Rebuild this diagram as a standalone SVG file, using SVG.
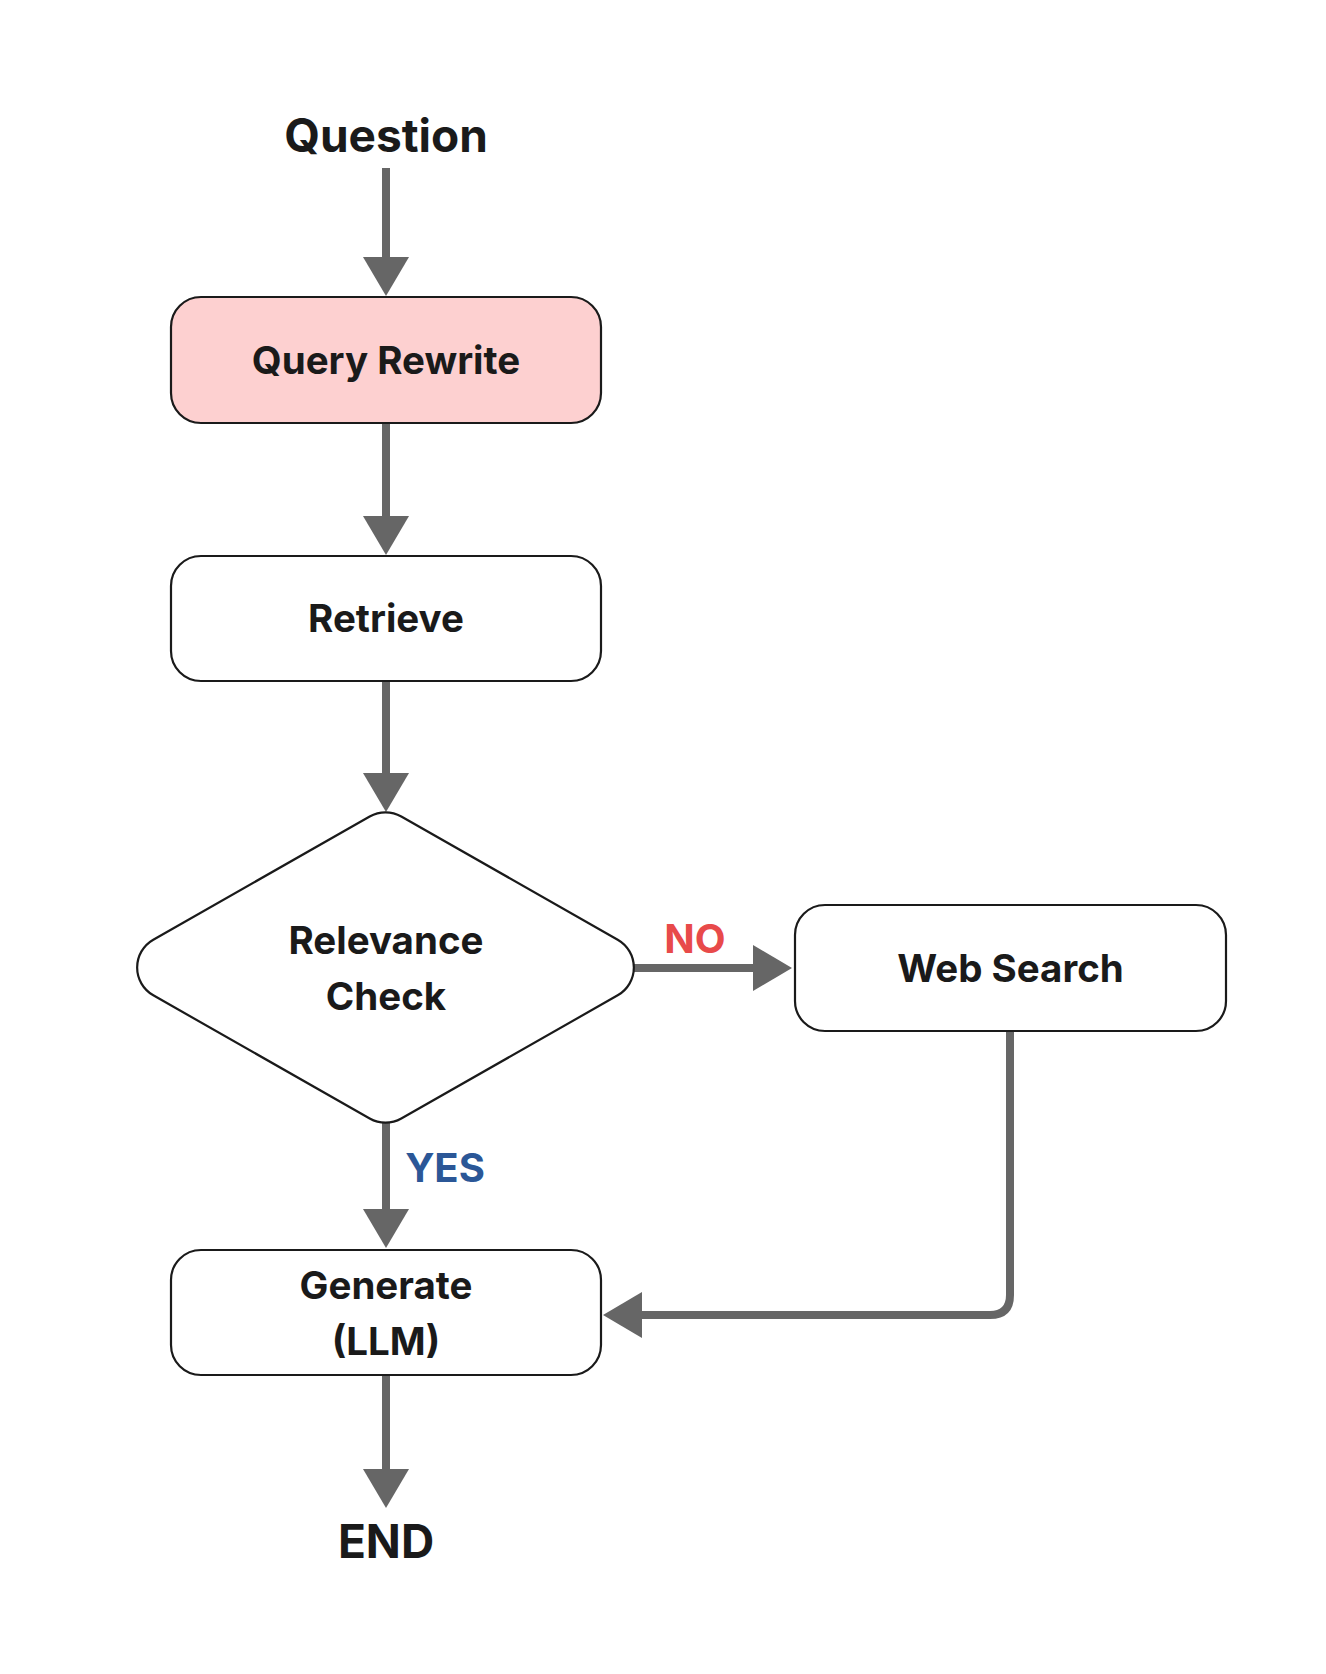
<svg xmlns="http://www.w3.org/2000/svg" width="1326" height="1674" viewBox="0 0 1326 1674">
<style>
.node{fill:#ffffff;stroke:#1a1a1a;stroke-width:2.2}
.pink{fill:#fdd0d0}
.lbl{font-family:Inter,"Liberation Sans",sans-serif;font-weight:700;font-size:38.5px;fill:#1a1a1a;text-anchor:middle}
.big{font-size:46px}
.no{fill:#e84a4a;font-size:40px}
.yes{fill:#2b5797;font-size:40px}
.edge{fill:none;stroke:#666666;stroke-width:8;marker-end:url(#ah)}
</style>
<defs>
<marker id="ah" viewBox="0 0 39 46" refX="2" refY="23" markerWidth="39" markerHeight="46" markerUnits="userSpaceOnUse" orient="auto">
<path d="M0 0 L39 23 L0 46 Z" fill="#666666"/>
</marker>
</defs>
<rect width="1326" height="1674" fill="#ffffff"/>
<g id="connectors">
<path class="edge" d="M386 168 V259"/>
<path class="edge" d="M386 424 V518"/>
<path class="edge" d="M386 682 V775"/>
<path class="edge" d="M386 1122 V1211"/>
<path class="edge" d="M386 1376 V1471"/>
<path class="edge" d="M634 968 H755"/>
<path class="edge" d="M1010 1031 V1295 Q1010 1315 990 1315 H640"/>
</g>
<g id="question"><text class="lbl big" x="386" y="152">Question</text></g>
<g id="query-rewrite">
<rect class="node pink" x="171" y="297" width="430" height="126" rx="30"/>
<text class="lbl" x="386" y="374">Query Rewrite</text>
</g>
<g id="retrieve">
<rect class="node" x="171" y="556" width="430" height="125" rx="30"/>
<text class="lbl" x="386" y="632">Retrieve</text>
</g>
<g id="relevance-check">
<path class="node" d="M153.3 939.7 L369.7 816.5 A32 32 0 0 1 401.3 816.5 L617.7 939.7 A32 32 0 0 1 617.7 995.3 L401.3 1118.5 A32 32 0 0 1 369.7 1118.5 L153.3 995.3 A32 32 0 0 1 153.3 939.7 Z"/>
<text class="lbl" x="386" y="954">Relevance</text>
<text class="lbl" x="386" y="1010">Check</text>
</g>
<g id="web-search">
<rect class="node" x="795" y="905" width="431" height="126" rx="30"/>
<text class="lbl" x="1010.5" y="982">Web Search</text>
</g>
<g id="generate">
<rect class="node" x="171" y="1250" width="430" height="125" rx="30"/>
<text class="lbl" x="386" y="1299">Generate</text>
<text class="lbl" x="386" y="1355">(LLM)</text>
</g>
<g id="end"><text class="lbl big" x="386" y="1558">END</text></g>
<g id="labels">
<text class="lbl no" x="695" y="953">NO</text>
<text class="lbl yes" x="445" y="1182">YES</text>
</g>
</svg>
